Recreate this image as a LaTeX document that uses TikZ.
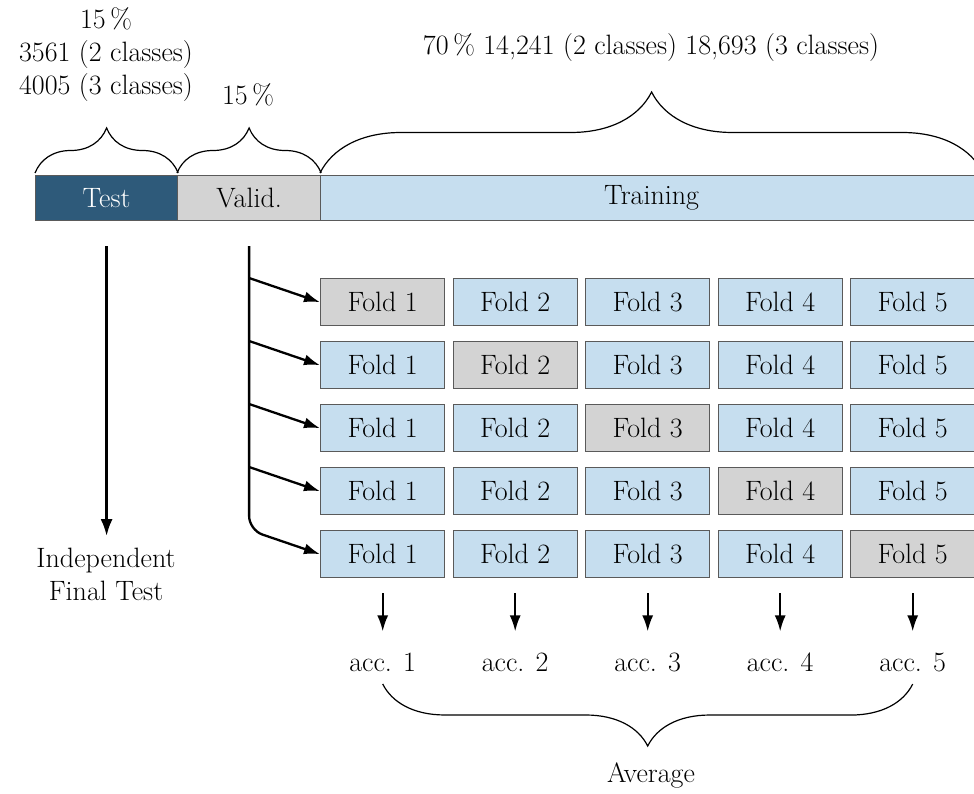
\documentclass[tikz,border=0pt]{standalone}
\usetikzlibrary{arrows.meta,decorations.pathreplacing,calc}
\definecolor{testblue}{HTML}{2E5A7A}
\definecolor{validgray}{HTML}{D3D3D3}
\definecolor{trainblue}{HTML}{C6DEEF}
\definecolor{edgegray}{HTML}{5A5A5A}
\begin{document}
\begin{tikzpicture}[x=1pt,y=-1pt,
  font=\fontsize{28}{33}\selectfont,
  segbox/.style={draw=edgegray, line width=1.2pt, minimum height=45pt,
    inner sep=0pt, anchor=north west},
  foldbox/.style={draw=edgegray, line width=1.4pt, fill=trainblue,
    minimum width=124pt, minimum height=47pt, inner sep=0pt, anchor=north west},
  heldout/.style={fill=validgray},
  brc/.style={decorate, decoration={brace, amplitude=#1}, line width=1.2pt},
  mbrc/.style={decorate, decoration={brace, mirror, amplitude=#1}, line width=1.2pt},
  arr/.style={-{Latex[length=16pt,width=11pt]}, line width=2.3pt},
  txt/.style={inner sep=0pt, align=center}]
\useasboundingbox (0,0) rectangle (974,794);
\clip (0,0) rectangle (974,794);

% split bar
\node[segbox, fill=testblue, text=white, minimum width=142pt] (test) at (35,175) {Test};
\node[segbox, fill=validgray, minimum width=143pt] (valid) at (177,175) {Valid.};
\node[segbox, fill=trainblue, minimum width=662pt] (train) at (320,175) {Training};

% braces over the bar
\draw[brc=45pt] ($(test.north west)+(0,-2)$) -- ($(test.north east)+(0,-2)$);
\draw[brc=45pt] ($(valid.north west)+(0,-2)$) -- ($(valid.north east)+(0,-2)$);
\draw[brc=81pt] ($(train.north west)+(0,-2)$) -- ($(train.north east)+(0,-2)$);

\node[txt] (testlbl) at (106,55) {15\,\%\\3561 (2 classes)\\4005 (3 classes)};
\node[txt] (validlbl) at (248,95) {15\,\%};
\node[txt] (trainlbl) at (651,48) {70\,\% 14,241 (2 classes) 18,693 (3 classes)};

% folds
\foreach \r in {1,...,5}{
  \foreach \c in {1,...,5}{
    \pgfmathsetmacro{\xx}{320+(\c-1)*132.5}
    \pgfmathsetmacro{\yy}{278+(\r-1)*63}
    \ifnum\r=\c
      \node[foldbox, heldout] (f-\r-\c) at (\xx,\yy) {Fold \c};
    \else
      \node[foldbox] (f-\r-\c) at (\xx,\yy) {Fold \c};
    \fi
  }
}

% independent test branch
\node[txt] (indep) at (106,574) {Independent\\Final Test};
\draw[-{Latex[length=17pt,width=12pt]}, line width=2.8pt]
  ($(test.south)+(0,25)$) -- ($(test.south)+(0,315)$);

% validation branches
\coordinate (vtop) at ($(valid.south)+(0,25)$);
\foreach \r in {1,...,4}{
  \draw[arr] (vtop |- f-\r-1.north) -- (f-\r-1.west);
}
\draw[arr, rounded corners=14pt] (vtop) -- (vtop |- f-5-1.north) -- (f-5-1.west);

% accuracies
\foreach \c in {1,...,5}{
  \node[txt] (acc-\c) at ($(f-5-\c.south)+(0,84)$) {acc. \c};
  \draw[arr, line width=2pt] ($(f-5-\c.south)+(0,15)$) -- ($(f-5-\c.south)+(0,53)$);
}
\draw[mbrc=62pt] ($(acc-1.south)+(0,12)$) -- ($(acc-5.south)+(0,12)$);
\node[txt] (avg) at (651,775) {Average};
\end{tikzpicture}
\end{document}
